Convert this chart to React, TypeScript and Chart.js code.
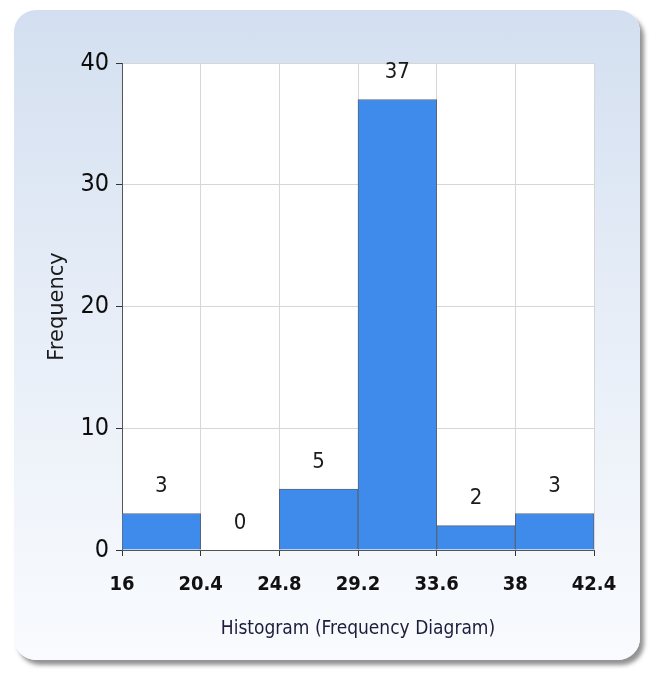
import React, { useEffect, useRef } from "react";
import { Chart, registerables } from "chart.js";

Chart.register(...registerables);

const binEdges = [16, 20.4, 24.8, 29.2, 33.6, 38, 42.4];
const xTickLabels = ["16", "20.4", "24.8", "29.2", "33.6", "38", "42.4"];
const frequencies = [3, 0, 5, 37, 2, 3];
const yTicks = [0, 10, 20, 30, 40];
const xTitle = "Histogram (Frequency Diagram)";
const yTitle = "Frequency";

const NARROW = "'Liberation Sans Narrow', 'DejaVu Sans Condensed', 'Arial Narrow', sans-serif";

const plotBg = {
  id: "plotBg",
  beforeDraw(chart: any) {
    const { ctx, chartArea } = chart;
    ctx.save();
    ctx.fillStyle = "#ffffff";
    ctx.fillRect(chartArea.left, chartArea.top, chartArea.right - chartArea.left, chartArea.bottom - chartArea.top);
    ctx.restore();
  },
};

const valueLabels = {
  id: "valueLabels",
  afterDatasetsDraw(chart: any) {
    const { ctx } = chart;
    const meta = chart.getDatasetMeta(0);
    ctx.save();
    ctx.font = `22px ${NARROW}`;
    ctx.fillStyle = "#1a1a1a";
    ctx.textAlign = "center";
    ctx.textBaseline = "middle";
    meta.data.forEach((el: any, i: number) => {
      ctx.fillText(String(frequencies[i]), el.x, el.y - 27);
    });
    ctx.restore();
  },
};

export default function App() {
  const ref = useRef<HTMLCanvasElement>(null);
  useEffect(() => {
    if (!ref.current) return;
    const data = frequencies.map((f, i) => ({ x: (binEdges[i] + binEdges[i + 1]) / 2, y: f }));
    const chart = new Chart(ref.current, {
      type: "bar",
      data: {
        datasets: [
          {
            data,
            backgroundColor: "#3f8beb",
            borderColor: "#56667a",
            borderWidth: 1,
            barPercentage: 1,
            categoryPercentage: 1,
          } as any,
        ],
      },
      options: {
        animation: false,
        responsive: false,
        maintainAspectRatio: false,
        layout: { padding: { top: 63, right: 63, left: 0, bottom: 0 } },
        plugins: { legend: { display: false }, tooltip: { enabled: false } },
        scales: {
          x: {
            type: "linear",
            offset: false,
            min: binEdges[0],
            max: binEdges[binEdges.length - 1],
            afterBuildTicks: (axis: any) => {
              axis.ticks = binEdges.map((v) => ({ value: v }));
            },
            afterFit: (scale: any) => {
              scale.height = 127;
            },
            ticks: {
              autoSkip: false,
              maxRotation: 0,
              padding: 17,
              color: "#111111",
              font: { family: NARROW, size: 20, weight: "bold" },
              callback: (_v: any, i: number) => xTickLabels[i],
            },
            grid: { offset: false, color: "#d6d6d6", tickColor: "#333333", tickLength: 6, drawTicks: true },
            border: { color: "#555555", width: 1 },
            title: {
              display: true,
              text: xTitle,
              color: "#1c1c3c",
              font: { family: NARROW, size: 19 },
              padding: { top: 0, bottom: 37 },
            },
          },
          y: {
            min: 0,
            max: 40,
            afterBuildTicks: (axis: any) => {
              axis.ticks = yTicks.map((v) => ({ value: v }));
            },
            afterFit: (scale: any) => {
              scale.width = 122;
            },
            ticks: {
              padding: 7,
              color: "#0d0d0d",
              font: { family: NARROW, size: 25, weight: "500" },
            },
            grid: { color: "#d6d6d6", tickColor: "#333333", tickLength: 6, drawTicks: true },
            border: { color: "#555555", width: 1 },
            title: {
              display: true,
              text: yTitle,
              color: "#1a1a1a",
              font: { family: "'DejaVu Sans', Verdana, sans-serif", size: 21 },
              padding: { top: 45, bottom: 0 },
            },
          },
        },
      } as any,
      plugins: [plotBg, valueLabels],
    });
    return () => chart.destroy();
  }, []);

  return (
    <div style={{ position: "absolute", left: 0, top: 0, width: 657, height: 677, overflow: "hidden", background: "#ffffff" }}>
      <div
        style={{
          position: "absolute",
          left: 14,
          top: 10,
          width: 626,
          height: 650,
          borderRadius: 22,
          background: "linear-gradient(to bottom, #d3dff0 0%, #e6edf7 45%, #f9fbfe 100%)",
          boxShadow: "4px 5px 4px rgba(110,110,110,0.75)",
        }}
      />
      <canvas ref={ref} width={657} height={677} style={{ position: "absolute", left: 0, top: 0, width: 657, height: 677 }} />
    </div>
  );
}
